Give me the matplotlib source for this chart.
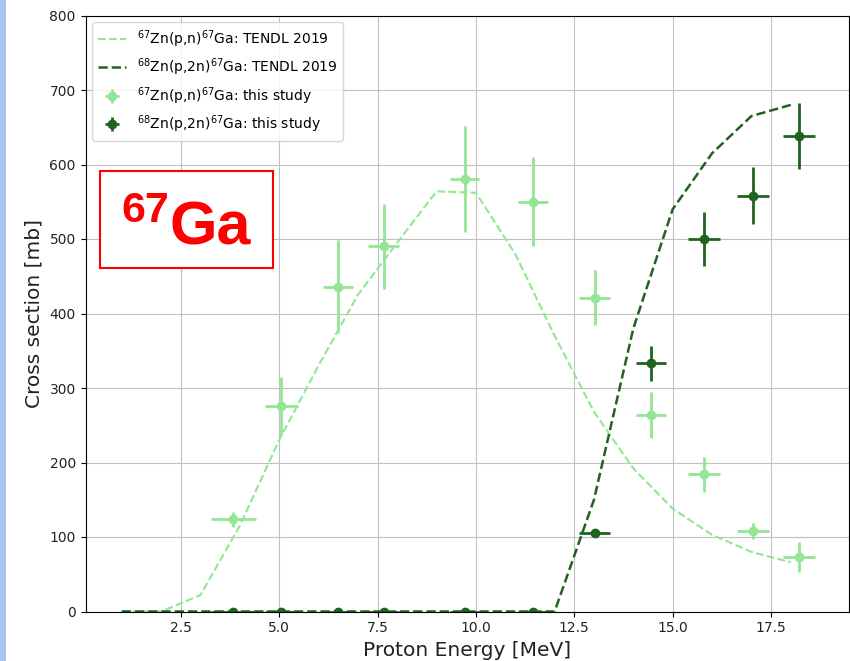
import numpy as np
import matplotlib.pyplot as plt
from matplotlib.patches import Rectangle

# TENDL 2019 evaluated cross sections
tendl_energy = [1, 2, 3, 4, 5, 6, 7, 8, 9, 10, 11, 12, 13, 14, 15, 16, 17, 18]
tendl_pn = [0, 0, 22, 115, 230, 330, 425, 495, 564, 562, 480, 370, 268, 192, 138, 103, 80, 66]
tendl_p2n = [0, 0, 0, 0, 0, 0, 0, 0, 0, 0, 0, 0, 150, 380, 540, 615, 665, 680]

# measured points (this study)
energy = [3.83, 5.05, 6.50, 7.66, 9.72, 11.45, 13.02, 14.45, 15.79, 17.04, 18.21]
energy_err = [0.57, 0.42, 0.38, 0.39, 0.37, 0.39, 0.39, 0.39, 0.4, 0.4, 0.4]
xs_pn = [124, 276, 436, 490, 581, 550, 421, 264, 184, 108, 73]
xs_pn_err = [10, 39, 62, 57, 71, 60, 37, 31, 24, 11, 20]
xs_p2n = [0, 0, 0, 0, 0, 0, 105, 333, 500, 558, 638]
xs_p2n_err = [1, 1, 1, 1, 1, 1, 5, 23, 36, 38, 44]

light = '#93e693'
dark = '#1f631f'

fig = plt.figure(figsize=(8.5, 6.61), dpi=100)
ax = fig.add_axes([85.5 / 850, 1 - 611.5 / 661, (849 - 85.5) / 850, (611.5 - 15.5) / 661])

ax.plot(tendl_energy, tendl_pn, '--', color=light, lw=1.5,
        label=r'$^{67}$Zn(p,n)$^{67}$Ga: TENDL 2019')
ax.plot(tendl_energy, tendl_p2n, '--', color=dark, lw=1.8,
        label=r'$^{68}$Zn(p,2n)$^{67}$Ga: TENDL 2019')
ax.errorbar(energy, xs_pn, xerr=energy_err, yerr=xs_pn_err, fmt='o', color=light,
            ms=6, elinewidth=2, label=r'$^{67}$Zn(p,n)$^{67}$Ga: this study')
ax.errorbar(energy, xs_p2n, xerr=energy_err, yerr=xs_p2n_err, fmt='o', color=dark,
            ms=6, elinewidth=2, label=r'$^{68}$Zn(p,2n)$^{67}$Ga: this study')

ax.set_xlim(0.08, 19.48)
ax.set_ylim(0, 800)
ax.set_xticks([2.5, 5.0, 7.5, 10.0, 12.5, 15.0, 17.5])
ax.grid(True, color='#c0c0c0')
ax.tick_params(labelsize=10, labelcolor='#222222')
ax.set_xlabel('Proton Energy [MeV]', fontsize=14.5, color='#222222')
ax.set_ylabel('Cross section [mb]', fontsize=14.5, color='#222222')
ax.legend(loc='upper left', fontsize=10)

# slide decorations: blue strip and the red isotope box
fig.add_artist(Rectangle((0, 0), 6 / 850, 1, transform=fig.transFigure,
                         facecolor='#a8c4ec', edgecolor='none'))
fig.add_artist(Rectangle((100 / 850, 1 - 268 / 661), 173 / 850, 97 / 661,
                         transform=fig.transFigure, facecolor='white',
                         edgecolor='red', lw=1.5, zorder=5))
fig.text(121 / 850, 1 - 222 / 661, '67', fontsize=31, fontweight='bold',
         color='red', family='Liberation Sans', zorder=6)
fig.text(169 / 850, 1 - 244 / 661, 'Ga', fontsize=44, fontweight='bold',
         color='red', family='Liberation Sans', zorder=6)

fig.savefig('out.png', dpi=100)
